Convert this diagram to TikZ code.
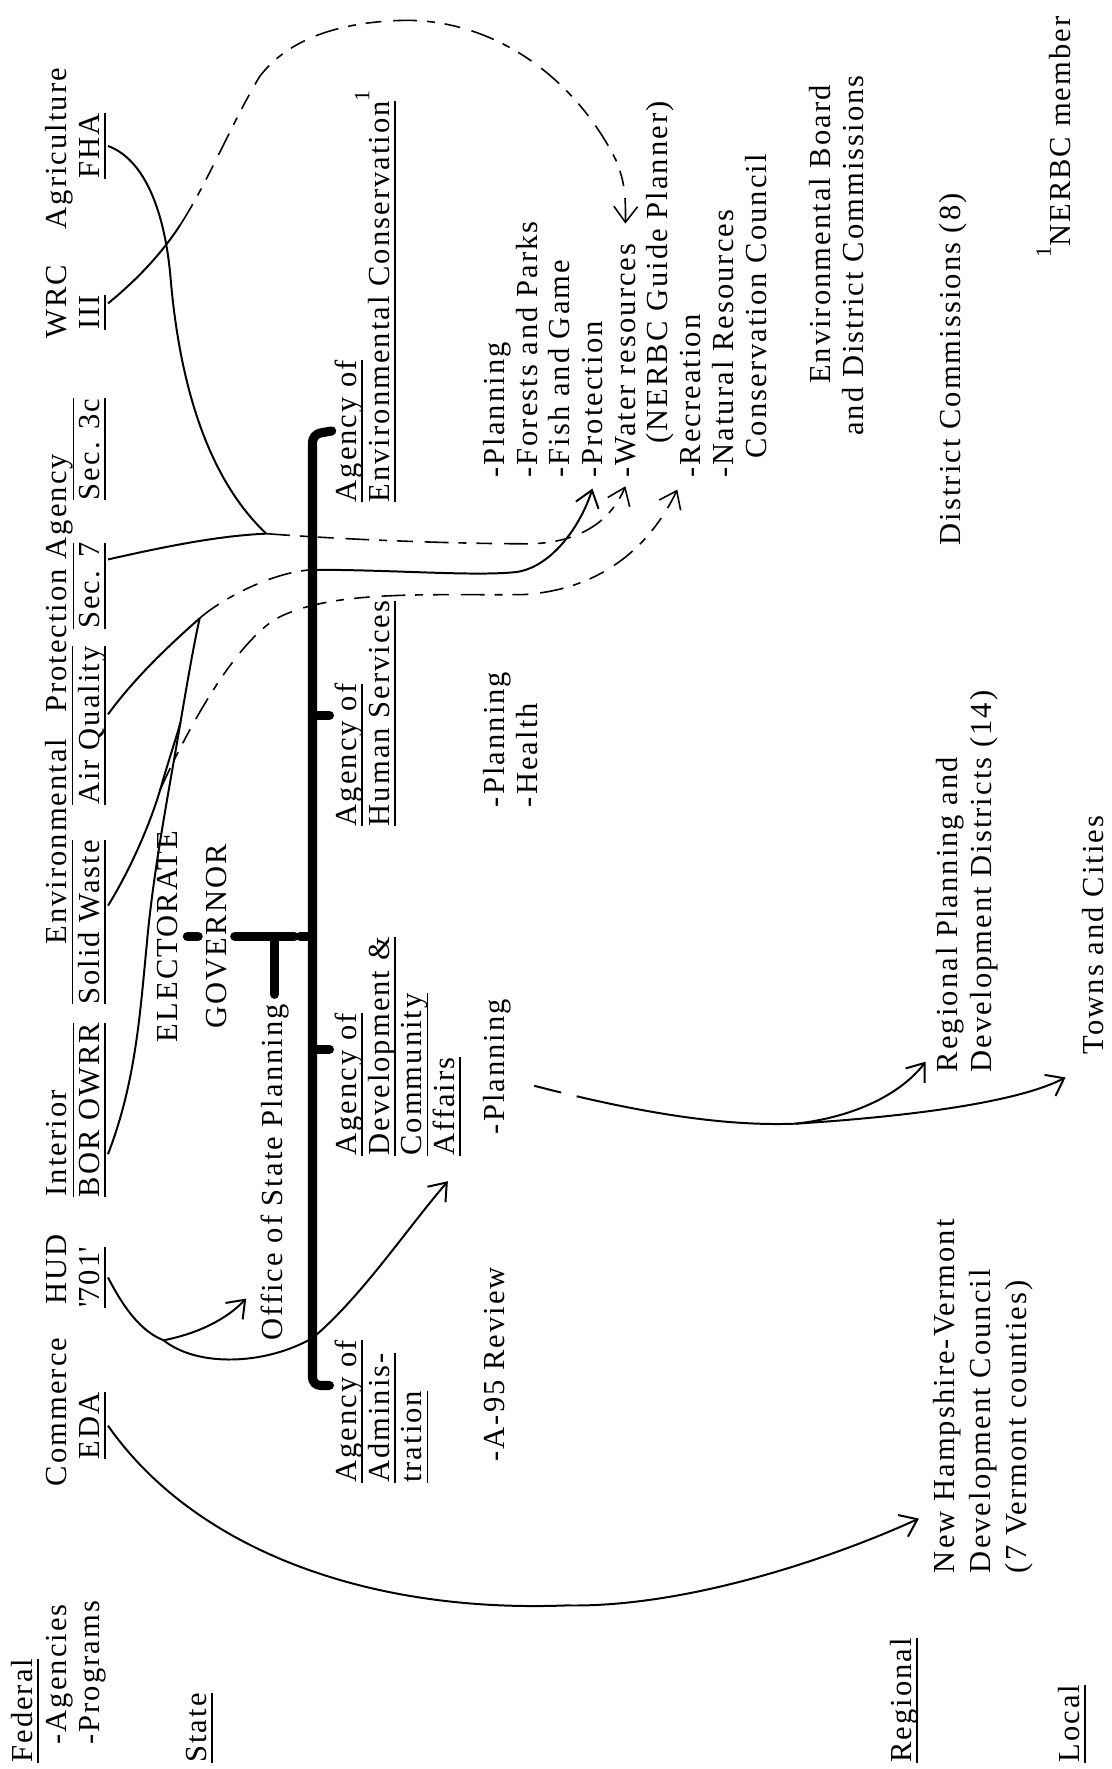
\documentclass[tikz,border=0pt]{standalone}
\usepackage{fontspec}
\setmainfont{Liberation Serif}[LetterSpace=6.7]
\usetikzlibrary{arrows.meta,calc}
\newcommand{\nodp}[1]{\raisebox{0pt}[\height][0pt]{#1}}
\newcommand{\ul}[1]{\underline{\nodp{#1}}}
\newcommand{\ou}[1]{$\overline{\underline{\mbox{\nodp{#1}}}}$}
\newcommand{\fn}{\raisebox{5pt}{\fontsize{5.5}{6}\selectfont 1}}
\tikzset{
  lbl/.style={rotate=90, anchor=base west, inner sep=0pt, font=\fontsize{7.7}{9}\selectfont},
  ctrlbl/.style={lbl, anchor=base},
  bar/.style={line width=2.3pt, line cap=round},
  wire/.style={line width=0.5pt},
  dwire/.style={line width=0.4pt, dash pattern=on 6pt off 2.5pt on 2pt off 2.5pt on 4pt off 3pt},
}
\begin{document}
\begin{tikzpicture}[x=0.01cm, y=-0.01cm, >={Straight Barb[length=4pt,width=6pt]}]
        \useasboundingbox (0,0) rectangle (985,1568);
        \fill[white] (0,0) rectangle (985,1568);
        \node[lbl] (fed) at (29,1563) {\ul{Federal}};
        \node[lbl] (agen) at (59,1547) {-Agencies};
        \node[lbl] (prog) at (88,1547) {-Programs};
        \node[lbl] (state) at (183,1563) {\ul{State}};
        \node[lbl] (regl) at (808,1563) {\ul{Regional}};
        \node[lbl] (locl) at (957,1563) {\ul{Local}};
        \node[lbl] (comm) at (59,1318) {Commerce};
        \node[lbl] (eda) at (88,1294) {\ul{EDA}};
        \node[lbl] (hud) at (59,1157) {HUD};
        \node[lbl] (h701) at (88,1160) {\ul{\textquotesingle 701\textquotesingle}};
        \node[lbl] (inter) at (59,1061) {Interior};
        \node[lbl] (bor) at (88,1062) {\ou{BOR OWRR}};
        \node[lbl] (epa) at (59,838) {Environmental\hspace{4pt} Protection Agency};
        \node[lbl] (sw) at (88,891) {\ou{Solid Waste}};
        \node[lbl] (aq) at (88,714) {\ou{Air Quality}};
        \node[lbl] (sec7) at (88,558) {\ou{Sec. 7}};
        \node[lbl] (sec3c) at (88,444) {\ou{Sec. 3c}};
        \node[lbl] (wrc) at (59,301) {WRC};
        \node[lbl] (iii) at (88,293) {\ul{III}};
        \node[lbl] (agri) at (59,204) {Agriculture};
        \node[lbl] (fha) at (88,159) {\ul{FHA}};
        \node[ctrlbl] (elect) at (157,830) {ELECTORATE};
        \node[ctrlbl] (gov) at (201,830) {GOVERNOR};
        \node[lbl] (osp) at (250,1189) {Office of State Planning};
        \node[lbl] (adm1) at (316,1315) {\ul{Agency of}};
        \node[lbl] (adm2) at (345,1315) {\ul{Adminis-}};
        \node[lbl] (adm3) at (374,1315) {\ul{tration}};
        \node[lbl] (dev1) at (316,1025) {\ul{Agency of}};
        \node[lbl] (dev2) at (345,1025) {\ul{Development \&}};
        \node[lbl] (dev3) at (374,1025) {\ul{Community}};
        \node[lbl] (aff) at (403,1025) {\ul{Affairs}};
        \node[lbl] (hum1) at (316,733) {\ul{Agency of}};
        \node[lbl] (hum2) at (345,733) {\ul{Human Services}};
        \node[lbl] (env1) at (316,446) {\ul{Agency of}};
        \node[lbl] (env2) at (345,446) {\ul{Environmental Conservation}\fn};
        \node[lbl] (a95) at (447,1296) {-A-95 Review};
        \node[lbl] (dplan) at (447,1006) {-Planning};
        \node[lbl] (hplan) at (447,716) {-Planning};
        \node[lbl] (hlth) at (476,716) {-Health};
        \node[lbl] (eplan) at (447,424) {-Planning};
        \node[lbl] (forest) at (476,424) {-Forests and Parks};
        \node[lbl] (fish) at (505,424) {-Fish and Game};
        \node[lbl] (prot) at (534,424) {-Protection};
        \node[lbl] (water) at (563,424) {-Water resources};
        \node[lbl] (guide) at (592,394) {(NERBC Guide Planner)};
        \node[lbl] (recr) at (621,424) {-Recreation};
        \node[lbl] (natres) at (650,424) {-Natural Resources};
        \node[lbl] (ccoun) at (679,407) {Conservation Council};
        \node[lbl] (eboard) at (736,341) {Environmental Board};
        \node[lbl] (eboard2) at (765,387) {and District Commissions};
        \node[lbl] (dcom) at (851,484) {District Commissions (8)};
        \node[lbl] (nhv) at (846,1395) {New Hampshire-Vermont};
        \node[lbl] (nhv2) at (878,1395) {Development Council};
        \node[lbl] (nhv3) at (910,1395) {(7 Vermont counties)};
        \node[lbl] (rpd) at (849,951) {Regional Planning and};
        \node[lbl] (rpd2) at (879,951) {Development Districts (14)};
        \node[lbl] (towns) at (978,935) {Towns and Cities};
        \node[lbl] (foot) at (949,229) {\fn NERBC member};
        \draw[bar, rounded corners=2pt] (294,382) -- (277,385) -- (277,1228) -- (292,1228);
        \draw[bar] (277,634) -- (292,634);
        \draw[bar] (277,930) -- (292,930);
        \draw[bar, shorten <=2.3pt, shorten >=1.9pt] (elect.south) -- (gov.north);
        \draw[bar, shorten <=1.7pt] (gov.south) -- (261,830);
        \draw[bar] (266,830) -- (277,830);
        \coordinate (tj) at (osp.east |- gov.south);
        \draw[bar] (tj) -- ($(osp.east)+(0,-8)$);
        \coordinate (P) at (177,548);
        \coordinate (Q) at (236,473);
        \coordinate (J) at (145,1188);
        \coordinate (K) at (705,996);
        \coordinate (M) at (160,640);
        \coordinate (R) at (142,700);
        \coordinate (W) at (160,199);
        \coordinate (pcross) at (277,505);
        \coordinate (ds) at ($(dplan.south)+(20,17)$);
        \draw[wire,->] (eda.south) .. controls (170,1370) and (320,1430) .. (502,1423) .. controls (610,1425) and (740,1380) .. ($(nhv.north west)+(-12,-49)$);
        \draw[wire] (h701.south) .. controls (110,1160) and (125,1180) .. (J);
        \draw[wire,->] (J) .. controls (175,1182) and (200,1170) .. ($(osp.north west)+(-12,-38)$);
        \draw[wire,->] (J) .. controls (175,1212) and (235,1210) .. (277,1186) .. controls (320,1150) and (360,1090) .. ($(aff.west)+(0,22)$);
        \draw[wire, dash pattern=on 7pt off 4pt on 200pt] (ds) .. controls (580,990) and (650,998) .. (K);
        \draw[wire,->] (K) .. controls (760,990) and (800,968) .. ($(rpd.north west)+(-9,-10)$);
        \draw[wire,->] (K) .. controls (800,990) and (900,978) .. ($(towns.north west)+(-14,20)$);
        \draw[wire] ($(bor.south west)!0.25!(bor.south east)$) .. controls (120,960) and (124,900) .. (130,838) .. controls (136,770) and (150,700) .. (M);
        \draw[wire] ($(sw.south west)!0.6!(sw.south east)$) .. controls (110,780) and (130,740) .. (R) .. controls (150,672) and (156,655) .. (M);
        \draw[wire] (M) .. controls (166,605) and (172,570) .. (P);
        \draw[wire] ($(aq.south west)!0.57!(aq.south east)$) .. controls (120,600) and (150,572) .. (P);
        \draw[dwire] (P) .. controls (195,532) and (240,507) .. (pcross);
        \draw[wire,->] (pcross) .. controls (350,505) and (420,511) .. (458,507) .. controls (490,502) and (515,465) .. ($(prot.west)+(0,9)$);
        \draw[wire] ($(sec7.south west)!0.8!(sec7.south east)$) .. controls (140,486) and (190,475) .. (Q);
        \draw[wire] (fha.south) .. controls (125,140) and (145,180) .. (151,244) .. controls (158,330) and (180,420) .. (Q);
        \draw[dwire,->] (Q) .. controls (300,478) and (400,482) .. (470,482) .. controls (510,481) and (540,465) .. ($(water.west)+(0,7)$);
        \draw[dwire,->] (R) .. controls (160,660) and (200,580) .. (242,550) .. controls (290,522) and (380,528) .. (464,527) .. controls (530,523) and (575,487) .. ($(recr.north west)+(-2,10)$);
        \draw[wire] ($(iii.south west)!0.75!(iii.south east)$) .. controls (125,245) and (145,222) .. (W);
        \draw[dwire,->] (W) .. controls (185,160) and (205,110) .. (230,68) .. controls (255,35) and (300,19) .. (360,18) .. controls (440,18) and (510,70) .. (546,142) .. controls (551,155) and (555,165) .. ($(water.east)+(0,-17)$);
      \end{tikzpicture}
\end{document}
